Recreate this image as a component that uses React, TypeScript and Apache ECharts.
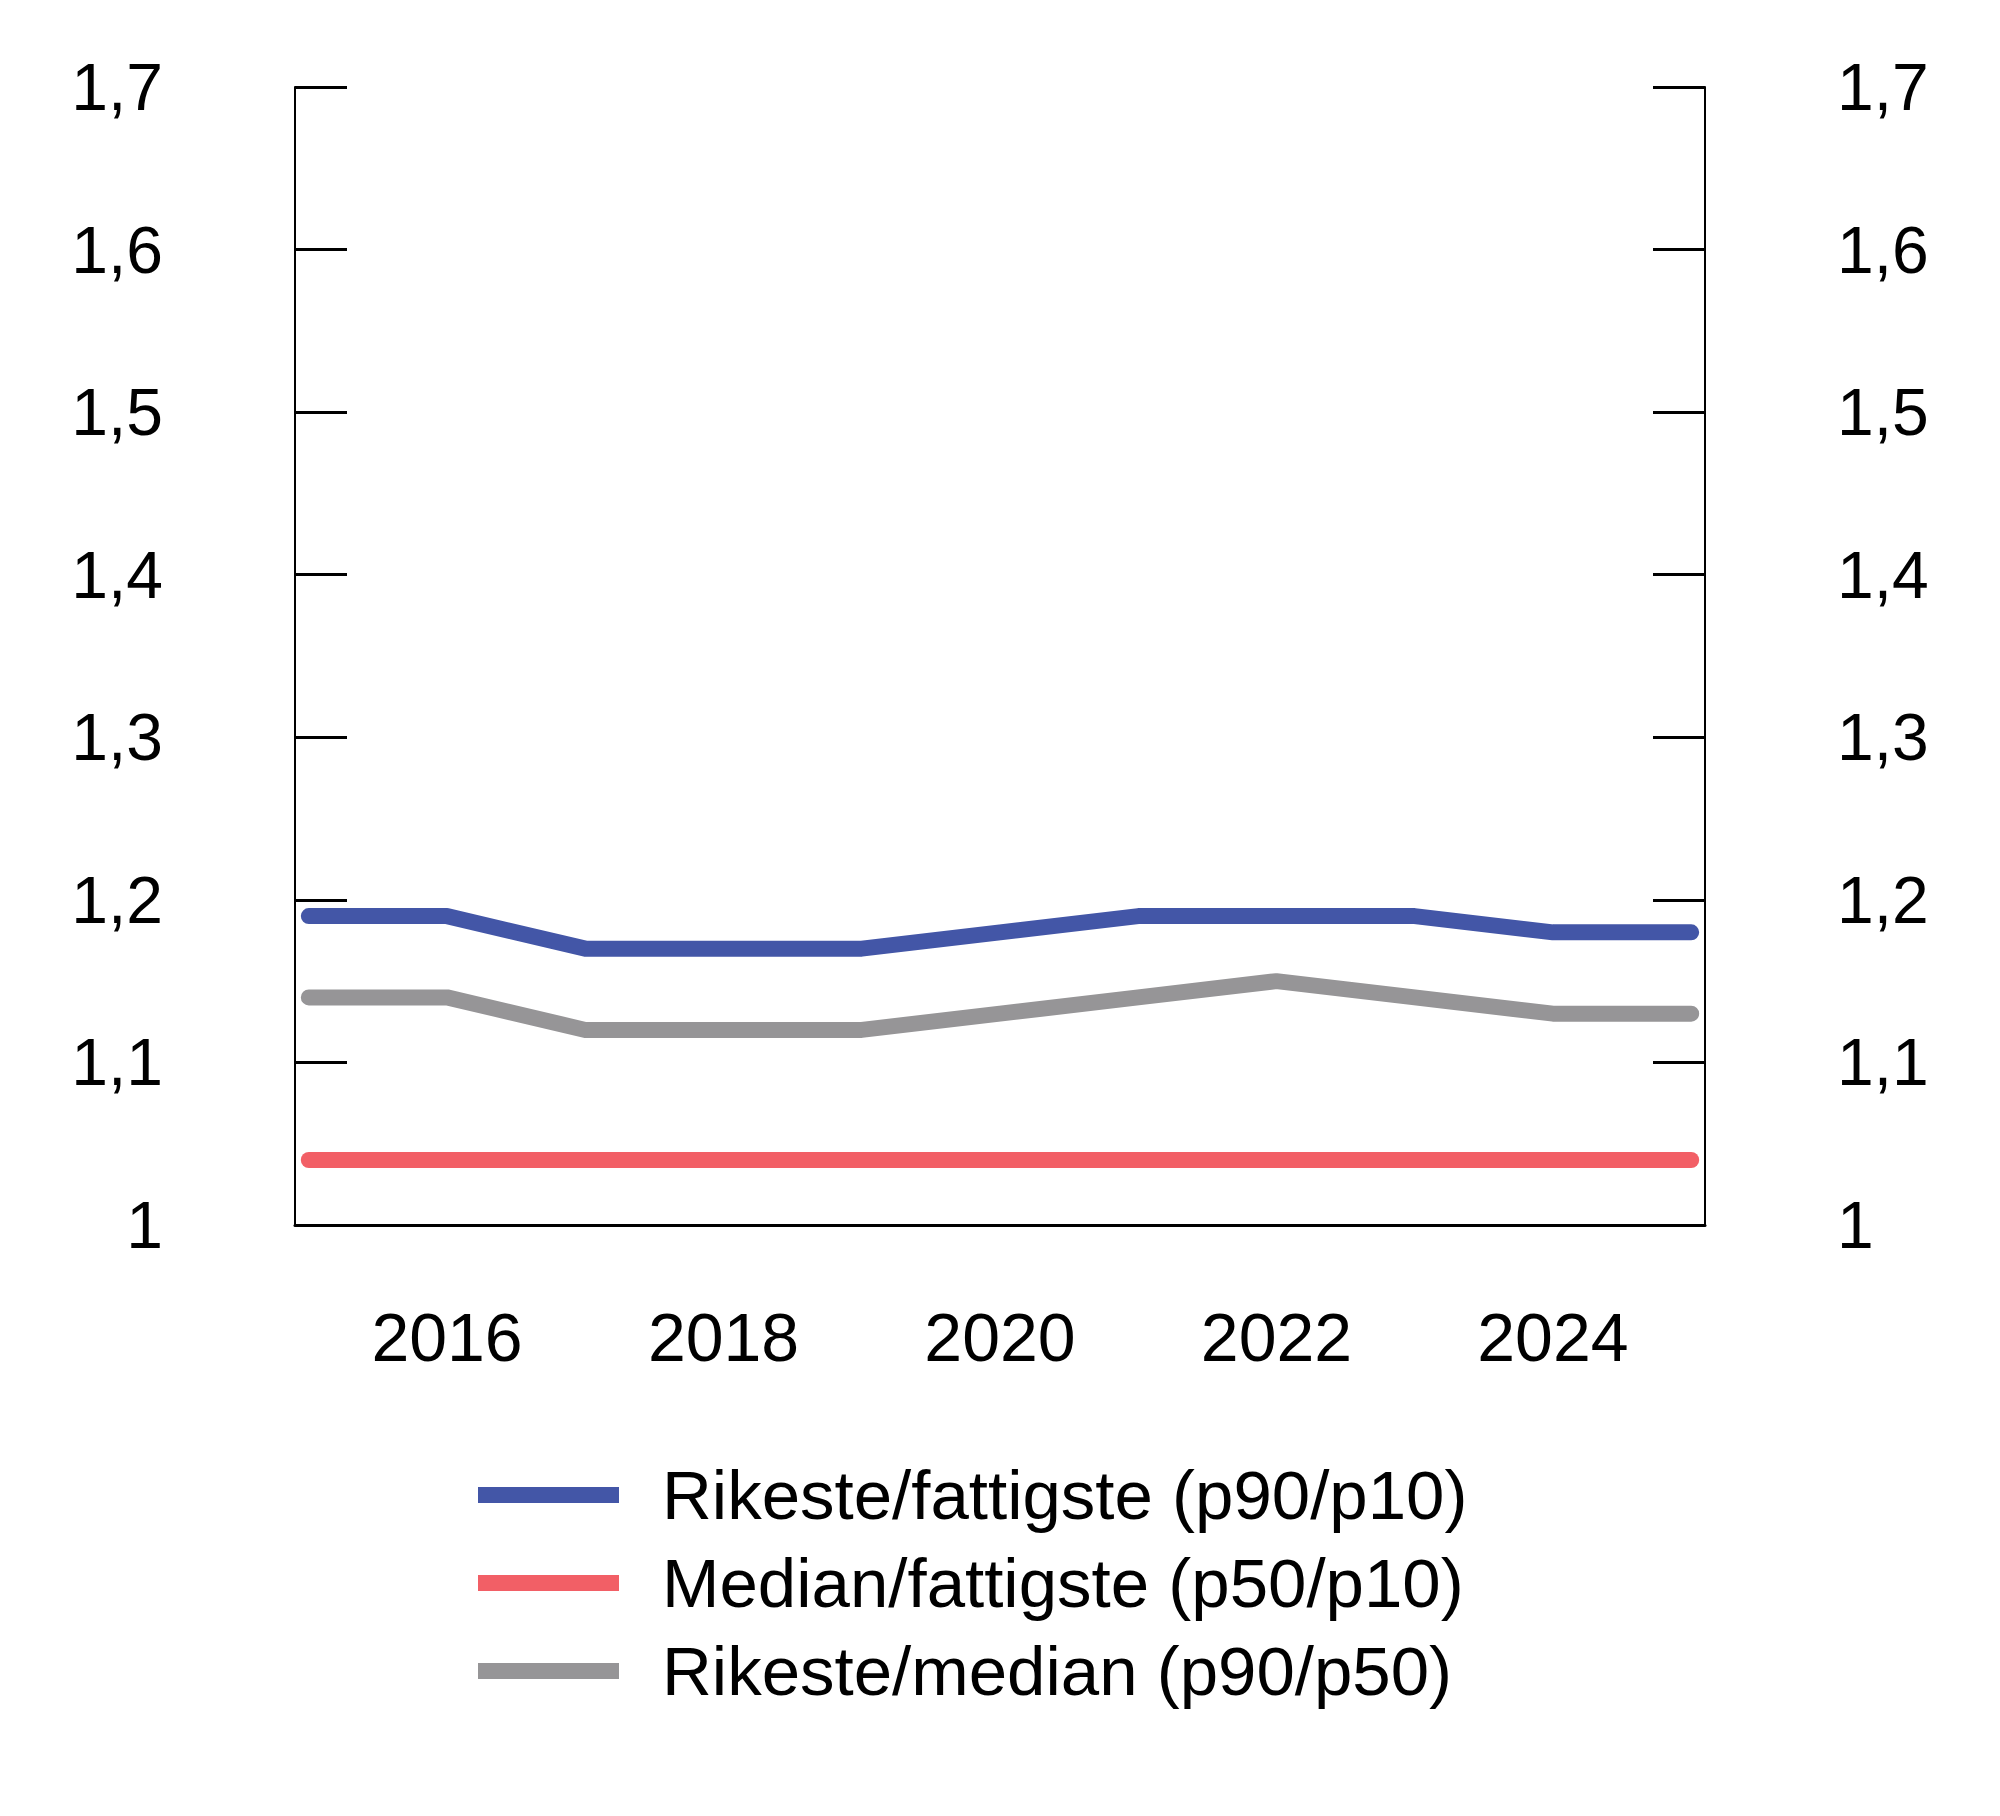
import React, { useEffect, useRef } from "react";
import * as echarts from "echarts";

// Income ratios between percentiles, 2015–2025
const years = [2015, 2016, 2017, 2018, 2019, 2020, 2021, 2022, 2023, 2024, 2025];
const richPoor = [1.19, 1.19, 1.17, 1.17, 1.17, 1.18, 1.19, 1.19, 1.19, 1.18, 1.18];
const medianPoor = [1.04, 1.04, 1.04, 1.04, 1.04, 1.04, 1.04, 1.04, 1.04, 1.04, 1.04];
const richMedian = [1.14, 1.14, 1.12, 1.12, 1.12, 1.13, 1.14, 1.15, 1.14, 1.13, 1.13];
const yearLabels = [2016, 2018, 2020, 2022, 2024];

const seriesNames = [
  "Rikeste/fattigste (p90/p10)",
  "Median/fattigste (p50/p10)",
  "Rikeste/median (p90/p50)",
];
const colors = ["#4356A7", "#F25F66", "#969597"];

const FONT = "Liberation Sans, Arial, Helvetica, sans-serif";

const fmtY = (v: number) => {
  const r = Math.round(v * 10) / 10;
  return r === 1 ? "1" : r.toFixed(1).replace(".", ",");
};

const yAxisCommon = (position: "left" | "right") => ({
  type: "value" as const,
  position,
  min: 1,
  max: 1.7,
  interval: 0.1,
  axisLine: { show: true, lineStyle: { color: "#000", width: 2 } },
  axisTick: { show: true, inside: true, length: 52, lineStyle: { color: "#000", width: 3 } },
  splitLine: { show: false },
  axisLabel: {
    margin: 132,
    color: "#000",
    fontSize: 66,
    fontFamily: FONT,
    formatter: fmtY,
  },
});

export default function App() {
  const ref = useRef<HTMLDivElement>(null);

  useEffect(() => {
    document.body.style.margin = "0";
    if (!ref.current) return;
    const chart = echarts.init(ref.current, undefined, { renderer: "svg" });
    const mk = (name: string, data: number[], color: string) => ({
      name,
      type: "line" as const,
      data: years.map((y, i) => [y, data[i]]),
      showSymbol: false,
      symbol: "none",
      color,
      lineStyle: { color, width: 16, cap: "round", join: "round" },
    });
    chart.setOption({
      animation: false,
      backgroundColor: "#fff",
      textStyle: { fontFamily: FONT },
      grid: { left: 295, right: 295, top: 87, bottom: 591, containLabel: false },
      xAxis: {
        type: "value",
        min: 2014.9,
        max: 2025.1,
        axisLine: { show: true, onZero: false, lineStyle: { color: "#000", width: 3 } },
        axisTick: { show: false },
        splitLine: { show: false },
        axisLabel: {
          customValues: yearLabels,
          margin: 78,
          color: "#000",
          fontSize: 68,
          fontFamily: FONT,
          formatter: (v: number) => String(v),
        },
      },
      yAxis: [yAxisCommon("left"), yAxisCommon("right")],
      legend: {
        orient: "vertical",
        left: 473,
        top: 1450,
        icon: "rect",
        itemWidth: 141,
        itemHeight: 16,
        itemGap: 8,
        data: seriesNames,
        textStyle: {
          color: "#000",
          fontSize: 69,
          lineHeight: 80,
          fontFamily: FONT,
          padding: [0, 0, 0, 38],
        },
      },
      series: [
        mk(seriesNames[0], richPoor, colors[0]),
        mk(seriesNames[1], medianPoor, colors[1]),
        mk(seriesNames[2], richMedian, colors[2]),
      ],
    });
    return () => chart.dispose();
  }, []);

  return <div ref={ref} style={{ width: 2000, height: 1816 }} />;
}
